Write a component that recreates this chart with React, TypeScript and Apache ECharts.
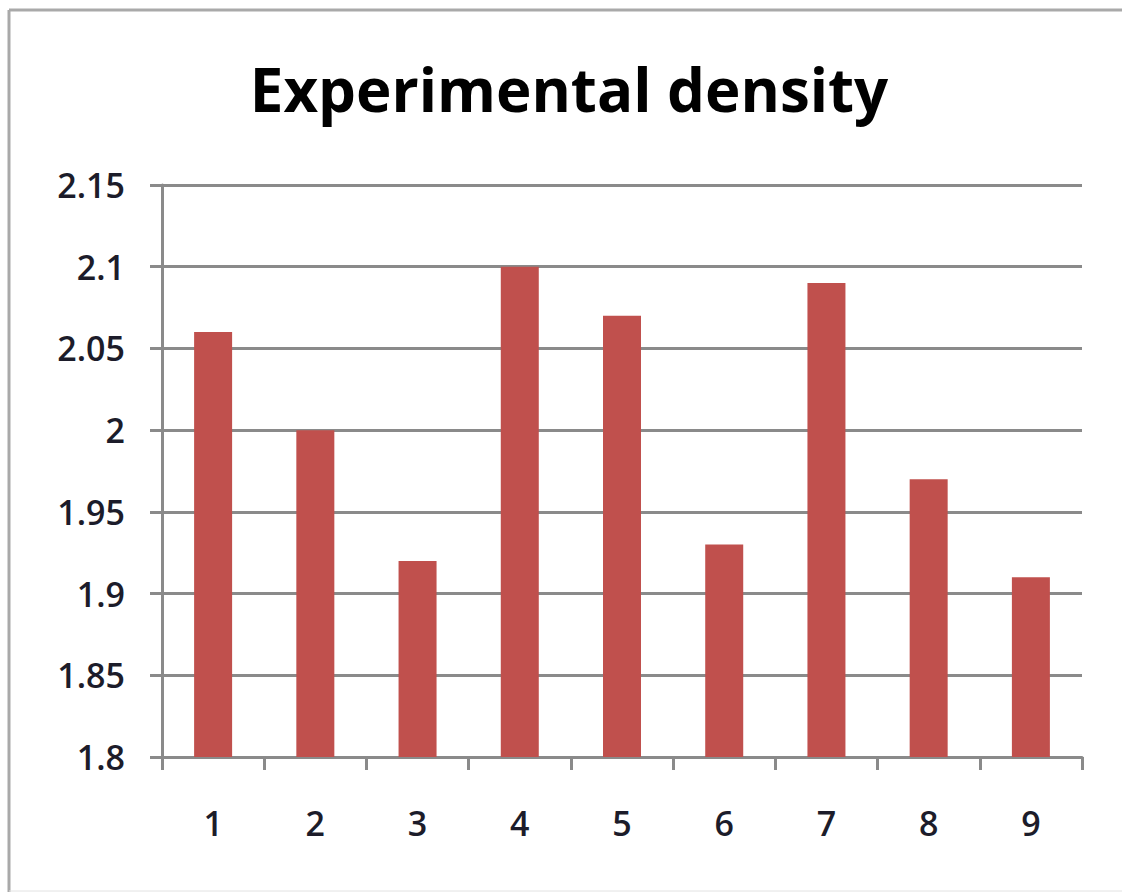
import React, { useEffect, useRef } from "react";
import * as echarts from "echarts";

const categories = ["1", "2", "3", "4", "5", "6", "7", "8", "9"];
const densityValues = [2.06, 2.0, 1.92, 2.1, 2.07, 1.93, 2.09, 1.97, 1.91];
const titleText = "Experimental density";
const yMin = 1.8;
const yMax = 2.15;
const yStep = 0.05;

const FONT = "'Open Sans', Lato, sans-serif";
const TEXT = "#1c1c2a";
const AXIS = "#8a8a8a";

export default function App() {
  const ref = useRef<HTMLDivElement>(null);

  useEffect(() => {
    if (!ref.current) return;
    const chart = echarts.init(ref.current, undefined, { renderer: "svg" });
    chart.setOption({
      animation: false,
      backgroundColor: "#ffffff",
      title: {
        text: titleText,
        left: 564,
        top: 84,
        textAlign: "center",
        textVerticalAlign: "middle",
        textStyle: {
          fontFamily: FONT,
          fontWeight: "bold",
          fontSize: 60,
          color: "#000000",
        },
      },
      graphic: [
        {
          type: "line",
          shape: { x1: 9, y1: 10, x2: 1122, y2: 10 },
          style: { stroke: "#a9a9a9", lineWidth: 3 },
        },
        {
          type: "line",
          shape: { x1: 9, y1: 10, x2: 9, y2: 892 },
          style: { stroke: "#a9a9a9", lineWidth: 3 },
        },
        {
          type: "line",
          shape: { x1: 9, y1: 891, x2: 1122, y2: 891 },
          style: { stroke: "#e2e2e2", lineWidth: 1 },
        },
      ],
      grid: { left: 162, right: 40, top: 185, bottom: 135, containLabel: false },
      xAxis: {
        type: "category",
        data: categories,
        boundaryGap: true,
        axisLine: { show: true, lineStyle: { color: AXIS, width: 3 } },
        axisTick: {
          show: true,
          alignWithLabel: false,
          length: 13,
          lineStyle: { color: AXIS, width: 3 },
        },
        axisLabel: {
          margin: 49,
          fontFamily: FONT,
          fontWeight: 600,
          fontSize: 34,
          color: TEXT,
        },
        splitLine: { show: false },
      },
      yAxis: {
        type: "value",
        min: yMin,
        max: yMax,
        interval: yStep,
        axisLine: { show: true, lineStyle: { color: AXIS, width: 3 } },
        axisTick: { show: true, length: 12, lineStyle: { color: AXIS, width: 3 } },
        axisLabel: {
          margin: 37,
          fontFamily: FONT,
          fontWeight: 600,
          fontSize: 34,
          color: TEXT,
          formatter: (v: number) => String(+v.toFixed(2)),
        },
        splitLine: { show: true, lineStyle: { color: AXIS, width: 3 } },
      },
      series: [
        {
          type: "bar",
          data: densityValues,
          barWidth: 38,
          itemStyle: { color: "#c0504d" },
        },
      ],
    });
    return () => chart.dispose();
  }, []);

  return (
    <div
      ref={ref}
      style={{ position: "fixed", left: 0, top: 0, width: 1122, height: 892 }}
    />
  );
}
